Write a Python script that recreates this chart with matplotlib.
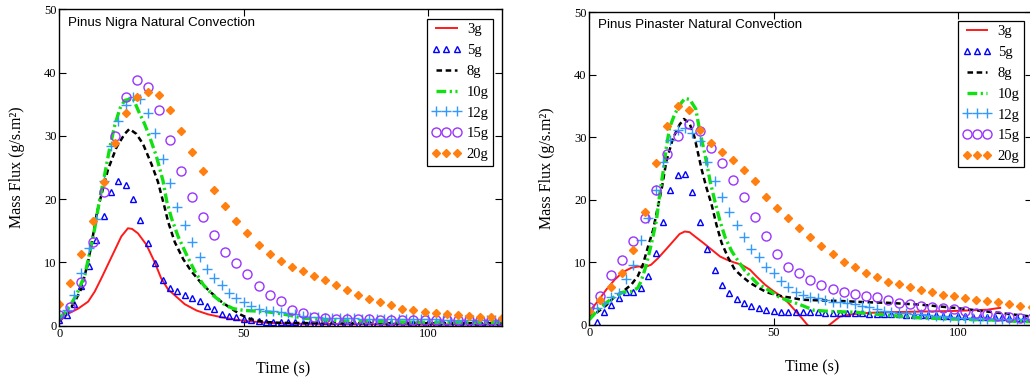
import matplotlib.pyplot as plt

# sampling times of the marker series (s)
t_even = [0, 2, 4, 6, 8, 10, 12, 14, 16, 18, 20, 22, 24, 26, 28, 30, 32, 34, 36, 38,
          40, 42, 44, 46, 48, 50, 52, 54, 56, 58, 60, 62, 64, 66, 68, 70, 72, 74, 76, 78,
          80, 82, 84, 86, 88, 90, 92, 94, 96, 98, 100, 102, 104, 106, 108, 110, 112, 114,
          116, 118, 120]
t_three = [0, 3, 6, 9, 12, 15, 18, 21, 24, 27, 30, 33, 36, 39, 42, 45, 48, 51, 54, 57,
           60, 63, 66, 69, 72, 75, 78, 81, 84, 87, 90, 93, 96, 99, 102, 105, 108, 111,
           114, 117, 120]

# ---- Pinus Nigra ----
nigra_3g_t = [0, 1, 2.4, 5.1, 7.8, 9.6, 11.4, 14.1, 16.8, 18.6, 19.7, 21.3, 23.6, 25.8,
              27.6, 29.4, 31.3, 34, 37.2, 40.3, 43.9, 48.4, 51.4, 56.7, 65, 80, 100, 120]
nigra_3g = [0.6, 1.2, 1.9, 2.7, 3.8, 5.4, 7.5, 10.8, 14.1, 15.4, 15.3, 14.6, 12.8, 10.1,
            7.5, 5.8, 4.8, 3.4, 2.4, 1.8, 1.35, 0.9, 0.7, 0.45, 0.3, 0.25, 0.2, 0.2]
nigra_8g_t = [0, 2.4, 4.2, 6.0, 7.8, 8.7, 10.1, 11.4, 13.2, 15.5, 17.7, 19.0, 20.9, 22.7,
              25.0, 26.7, 28.5, 29.5, 31.3, 33.6, 35.8, 38.5, 41.2, 43.9, 46.6, 49.3,
              52.0, 55.6, 60, 70, 120]
nigra_8g = [0.8, 2.2, 3.8, 5.9, 10.1, 12.8, 17.6, 20.7, 24.7, 28.2, 30.3, 31.1, 30.3, 28.7,
            25.5, 22.8, 18.8, 16.4, 13.2, 10.5, 8.6, 6.7, 5.2, 3.8, 2.7, 1.7,
            1.0, 0.6, 0.45, 0.4, 0.4]
nigra_10g_t = [0, 2.4, 4.6, 6.9, 8.3, 9.6, 11.0, 12.3, 13.7, 15.0, 16.4, 17.7, 20.0, 21.4,
               23.1, 24.5, 26.3, 28.1, 29.1, 30.4, 32.2, 34.5, 36.8, 39.0, 41.7, 44.4,
               47.1, 50.2, 53.8, 56.2, 59, 62, 66, 75, 90, 105, 120]
nigra_10g = [1.1, 2.7, 4.8, 8.0, 11.7, 15.4, 20.2, 23.9, 28.2, 31.6, 34.3, 35.6, 35.9, 34.0,
             31.9, 29.8, 26.8, 22.9, 19.7, 17.0, 14.1, 11.2, 8.5, 6.5, 4.8, 3.5,
             2.7, 2.4, 2.3, 2.2, 2.0, 1.7, 1.2, 0.8, 0.6, 0.5, 0.5]
nigra_5g = [0.9, 1.7, 3.5, 6.3, 9.5, 13.5, 17.4, 21.1, 22.8, 22.3, 20.1, 16.7, 13.0, 9.9,
            7.3, 5.9, 5.5, 4.9, 4.4, 3.9, 3.1, 2.6, 1.9, 1.6, 1.3, 1.1, 0.9, 0.75, 0.65,
            0.6, 0.55, 0.55, 0.55, 0.5, 0.5, 0.5, 0.5, 0.5, 0.5, 0.5, 0.5, 0.5, 0.5, 0.5,
            0.5, 0.5, 0.45, 0.45, 0.45, 0.45, 0.45, 0.45, 0.45, 0.45, 0.45, 0.45, 0.45,
            0.45, 0.45, 0.45, 0.45]
nigra_12g = [1.5, 2.5, 4.8, 8.3, 12.3, 16.9, 22.8, 28.4, 32.3, 34.8, 36.2, 35.8, 33.6, 30.5,
             26.4, 22.5, 18.8, 15.9, 13.3, 10.9, 9.0, 7.5, 6.4, 5.1, 4.4, 3.7, 3.1, 2.7,
             2.4, 2.3, 2.2, 2.0, 1.8, 1.6, 1.4, 1.3, 1.25, 1.2, 1.2, 1.15, 1.15, 1.1, 1.1,
             1.1, 1.05, 1.05, 1.0, 1.0, 1.0, 1.0, 1.0, 1.0, 0.95, 0.95, 0.95, 0.95, 0.95,
             0.9, 0.9, 0.9, 0.9]
nigra_15g = [1.75, 3.0, 6.9, 13.2, 21.1, 30.0, 36.2, 38.9, 37.7, 34.1, 29.3, 24.4, 20.4,
             17.1, 14.3, 11.7, 9.9, 8.1, 6.3, 4.9, 3.9, 2.5, 2.0, 1.3, 1.2, 1.1, 1.0, 1.0,
             1.0, 0.95, 0.95, 0.95, 0.9, 0.9, 0.9, 0.9, 0.85, 0.85, 0.85, 0.85, 0.8]
nigra_20g = [3.5, 6.7, 11.3, 16.6, 22.7, 28.9, 33.6, 36.1, 37.0, 36.4, 34.1, 30.8, 27.5,
             24.5, 21.4, 18.9, 16.5, 14.6, 12.8, 11.4, 10.3, 9.3, 8.6, 7.85, 7.2, 6.4, 5.6,
             4.9, 4.2, 3.7, 3.2, 2.7, 2.5, 2.2, 2.0, 1.9, 1.75, 1.5, 1.4, 1.35, 1.2]

# ---- Pinus Pinaster ----
pinaster_3g_t = [0, 2.4, 4.6, 6.9, 9.1, 11.4, 13.2, 15.5, 16.8, 18.6, 20.9, 22.7, 24.5,
                 25.9, 27.2, 28.7, 30.9, 33.2, 35.5, 37.3, 39.1, 41.3, 43.6, 45.4, 47.7,
                 49.9, 52.2, 54, 55.8, 57.6, 59, 62, 65, 68, 71.6, 76, 81, 90, 99, 108, 111.5]
pinaster_3g = [2.1, 3.8, 5.6, 7.2, 8.4, 9.1, 9.3, 9.3, 9.6, 10.6, 12.1, 13.3, 14.5,
               14.9, 14.8, 14.1, 13.1, 12.0, 10.9, 10.4, 10.0, 9.6, 8.8, 7.7, 6.4,
               5.4, 4.5, 3.5, 2.3, 1.1, 0.1, -1.8, -0.1, 1.3, 1.7, 1.9, 2.0, 2.1, 2.2, 2.4, 2.7]
pinaster_8g_t = [0, 2.4, 4.6, 6.9, 9.1, 11.4, 13.2, 14.6, 15.9, 17.3, 18.6, 19.7, 20.9,
                 22.7, 24.5, 25.7, 27.2, 28.5, 29.6, 30.5, 31.8, 33.2, 34.5, 35.9, 37.7,
                 39.5, 41.3, 43.6, 45.9, 48.1, 50.4, 52.6, 55, 57.6, 62, 68, 75, 81, 90,
                 99, 108, 114, 120]
pinaster_8g = [1.0, 2.1, 3.1, 4.5, 5.3, 6.4, 7.8, 9.7, 12.4, 15.1, 18.8, 21.9, 26.1,
               29.8, 32.0, 32.9, 32.2, 30.1, 27.2, 24.8, 21.9, 19.2, 16.0, 13.1, 10.7,
               8.8, 7.8, 6.7, 5.9, 5.2, 4.8, 4.5, 4.3, 4.0, 3.9, 3.8, 3.6, 3.5, 3.2,
               2.7, 2.1, 1.7, 1.3]
pinaster_10g_t = [0, 2.4, 4.6, 6.9, 9.1, 11.4, 13.2, 14.1, 15.5, 16.8, 18.2, 19.1, 20,
                  20.9, 21.8, 23.2, 25, 26, 27.3, 28.9, 30, 31.4, 32.8, 34.1, 35.5, 36.9,
                  38.7, 40.5, 42.3, 44.1, 45.9, 47.7, 49.5, 51.3, 53.6, 55.8, 58.1, 61,
                  66, 72, 81, 90, 99, 108, 117, 120]
pinaster_10g = [0.8, 2.4, 3.5, 4.5, 5.2, 5.3, 5.9, 7.0, 9.6, 12.8, 16.6, 20.8, 24.3,
                28.3, 31.5, 33.7, 35.5, 36.2, 36.0, 34.5, 30.9, 27.2, 22.9, 19.7, 16.5, 13.9,
                11.7, 10.1, 8.6, 7.5, 6.4, 5.9, 5.2, 4.5, 3.9, 3.5, 3.0, 2.3,
                2.1, 2.0, 1.5, 1.1, 0.9, 0.8, 0.5, 0.5]
pinaster_5g = [2.0, 0.5, 2.0, 3.2, 4.3, 5.2, 5.2, 5.9, 7.8, 11.5, 16.5, 21.5, 24.0, 24.1,
               21.2, 16.4, 12.1, 8.7, 6.3, 5.0, 4.1, 3.5, 3.0, 2.7, 2.4, 2.2, 2.1, 2.1,
               2.1, 2.1, 2.0, 2.0, 1.9, 1.9, 1.85, 1.8, 1.8, 1.8, 1.75, 1.75, 1.7, 1.7,
               1.65, 1.6, 1.6, 1.55, 1.5, 1.5, 1.45, 1.4, 1.4, 1.35, 1.3, 1.3, 1.25, 1.2,
               1.2, 1.15, 1.1, 1.1, 1.0]
pinaster_12g = [2.6, 2.7, 3.4, 4.4, 5.1, 7.3, 9.5, 13.5, 17.0, 21.6, 26.0, 29.5, 31.2, 31.4,
                30.7, 29.4, 26.0, 22.9, 20.5, 18.0, 16.0, 14.0, 12.1, 10.8, 9.3, 8.2, 7.0,
                6.0, 5.3, 4.8, 4.5, 4.2, 3.9, 3.7, 3.6, 3.45, 3.3, 3.05, 2.8, 2.5, 2.25,
                2.05, 1.95, 1.85, 1.75, 1.65, 1.55, 1.45, 1.35, 1.25, 1.15, 1.05, 1.0, 0.95,
                0.9, 0.9, 0.9, 0.9, 0.9, 0.85, 0.85]
pinaster_15g = [2.8, 4.6, 7.9, 10.3, 13.4, 17.1, 21.5, 27.3, 30.2, 32.1, 30.9, 28.3, 25.9,
                23.2, 20.4, 17.2, 14.2, 11.35, 9.3, 8.3, 7.15, 6.3, 5.75, 5.3, 4.9, 4.55,
                4.4, 4.0, 3.55, 3.3, 3.05, 2.8, 2.65, 2.45, 2.25, 1.9, 1.65, 1.4, 1.3,
                1.15, 1.1]
pinaster_20g = [2.2, 3.9, 6.0, 8.3, 12.0, 18.0, 25.8, 31.8, 35.0, 34.4, 31.1, 29.0, 27.6,
                26.3, 24.7, 22.9, 20.5, 18.6, 17.0, 15.5, 14.1, 12.65, 11.35, 10.1, 9.15,
                8.25, 7.6, 6.9, 6.5, 6.0, 5.55, 5.2, 4.7, 4.55, 4.2, 3.95, 3.75, 3.6, 3.35,
                3.05, 2.9]

labels = ['3g', '5g', '8g', '10g', '12g', '15g', '20g']

plt.rcParams['lines.scale_dashes'] = False
serif = 'Liberation Serif'


def panel(ax, title, l3t, l3, l8t, l8, l10t, l10, m5, m12, m15, m20, anchor):
    ax.plot(l3t, l3, color='#ff1a1a', lw=1.4, label=labels[0])
    ax.plot(t_even, m5, ls='none', marker='^', ms=5, mfc='none', mec='#0000ff',
            mew=1.0, label=labels[1])
    ax.plot(l8t, l8, color='black', lw=1.8, dashes=(4.0, 2.6), label=labels[2])
    ax.plot(l10t, l10, color='#11e011', lw=2.4, dashes=(7, 2.5, 1.6, 2.5), label=labels[3])
    ax.plot(t_even, m12, ls='none', marker='+', ms=7, mec='#3399ff', mew=1.0,
            label=labels[4])
    ax.plot(t_three, m15, ls='none', marker='o', ms=6.5, mfc='none', mec='#9933ff',
            mew=1.0, label=labels[5])
    ax.plot(t_three, m20, ls='none', marker='D', ms=4.5, color='#ff8011', label=labels[6])

    ax.set_xlim(0, 120)
    ax.set_ylim(0, 50)
    ax.set_xticks([0, 50, 100])
    ax.set_yticks([0, 10, 20, 30, 40, 50])
    ax.tick_params(direction='in', top=True, right=True, length=5, width=0.8,
                   labelsize=9, pad=2)
    for lab in ax.get_xticklabels() + ax.get_yticklabels():
        lab.set_fontfamily(serif)
    for s in ax.spines.values():
        s.set_linewidth(1.0)

    ax.text(0.02, 0.958, title, transform=ax.transAxes, fontsize=9.6,
            family='Liberation Sans', va='center', ha='left')
    ax.set_xlabel('Time (s)', family=serif, fontsize=11.5)
    ax.set_ylabel('Mass Flux (g/s.m²)', family=serif, fontsize=11.5)
    ax.xaxis.set_label_coords(0.505, -0.112)
    ax.yaxis.set_label_coords(-0.078, 0.5)

    leg = ax.legend(loc='upper right', bbox_to_anchor=anchor, numpoints=3,
                    prop={'family': serif, 'size': 10.5}, fancybox=False,
                    edgecolor='black', framealpha=1, borderaxespad=0,
                    handlelength=2.0, handletextpad=0.4, labelspacing=0.52,
                    borderpad=0.3)
    leg.get_frame().set_linewidth(0.9)


fig = plt.figure(figsize=(10.30, 3.83), dpi=100)
ax1 = fig.add_axes([0.0576, 0.1496, 0.4298, 0.8261])
ax2 = fig.add_axes([0.5721, 0.1522, 0.4294, 0.8164])

panel(ax1, 'Pinus Nigra Natural Convection', nigra_3g_t, nigra_3g, nigra_8g_t, nigra_8g,
      nigra_10g_t, nigra_10g, nigra_5g, nigra_12g, nigra_15g, nigra_20g, (0.98, 0.97))
panel(ax2, 'Pinus Pinaster Natural Convection', pinaster_3g_t, pinaster_3g, pinaster_8g_t,
      pinaster_8g, pinaster_10g_t, pinaster_10g, pinaster_5g, pinaster_12g, pinaster_15g,
      pinaster_20g, (0.983, 0.972))

fig.savefig('out.png', dpi=100)
